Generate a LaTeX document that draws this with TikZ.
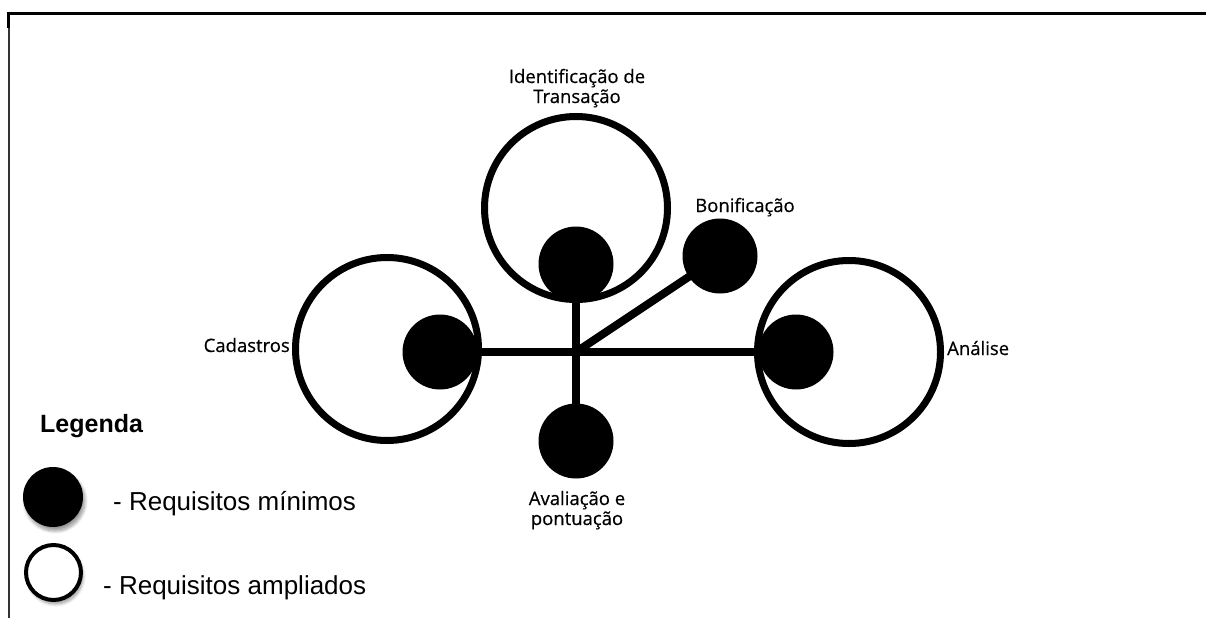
\documentclass[tikz,border=0pt]{standalone}
\usepackage{fontspec}
\usetikzlibrary{shadows.blur}
\newfontfamily\diagfont[FakeBold=0.5]{Open Sans}
\newfontfamily\legfont{Liberation Sans}
\begin{document}
\begin{tikzpicture}[x=1pt,y=-1pt,
  reqbig/.style={circle, draw=black, line width=7pt, minimum size=183pt, inner sep=0pt},
  reqmin/.style={circle, fill=black, minimum size=75pt, inner sep=0pt},
  link/.style={line width=8pt, black},
  lbl/.style={font=\diagfont\fontsize{18.5}{20}\selectfont, inner sep=0pt, align=center},
  legtxt/.style={font=\legfont\fontsize{26}{30}\selectfont, inner sep=0pt, anchor=base west},
  legshadow/.style={blur shadow={shadow xshift=2pt, shadow yshift=-4pt, shadow blur steps=8, shadow blur radius=3pt}}]
\useasboundingbox (0,0) rectangle (1206,618);

% frame lines along the top and left edges
\draw[line width=2pt, black!80] (9,13) -- (9,618);
\draw[line width=3pt] (8.5,12) -- (8.5,28);
\draw[line width=3pt] (7,13.5) -- (1206,13.5);

% extended requirement rings
\node[reqbig] (idB)  at (576,208) {};
\node[reqbig] (cadB) at (387,349) {};
\node[reqbig] (anaB) at (849,352) {};

% minimum requirement discs
\node[reqmin] (idS)  at (576,264) {};
\node[reqmin] (cadS) at (440,352) {};
\node[reqmin] (anaS) at (796,352) {};
\node[reqmin] (bonS) at (720,256) {};
\node[reqmin] (avaS) at (576,441) {};
\coordinate (hub) at (576,352);

% connectors
\draw[link] (cadS.center) -- (anaS.center);
\draw[link] (idS.center) -- (avaS.center);
\draw[link] (hub) -- (bonS.center);

% labels (base anchor of a two-line label sits on its last line)
\node[lbl, anchor=base] (idL) at (577,103) {Identificação de\\Transação};
\node[lbl, anchor=base] (bonL) at (745,212) {Bonificação};
\node[lbl, anchor=base east] (cadL) at (290,352) {Cadastros};
\node[lbl, anchor=base west] (anaL) at (947,355) {Análise};
\node[lbl, anchor=base] (avaL) at (577,525) {Avaliação e\\pontuação};

% legend
\node[font=\legfont\bfseries\fontsize{25}{30}\selectfont, anchor=base west, inner sep=0pt] (legT) at (40,432) {Legenda};
\node[reqmin, minimum size=60pt, legshadow] (legMin) at (53,497) {};
\node[circle, draw=black, line width=4pt, fill=white, minimum size=55pt, inner sep=0pt, legshadow] (legAmp) at (53.5,572.5) {};
\node[legtxt] (legMinT) at (113,510) {- Requisitos mínimos};
\node[legtxt] (legAmpT) at (103,594) {- Requisitos ampliados};
\end{tikzpicture}
\end{document}
